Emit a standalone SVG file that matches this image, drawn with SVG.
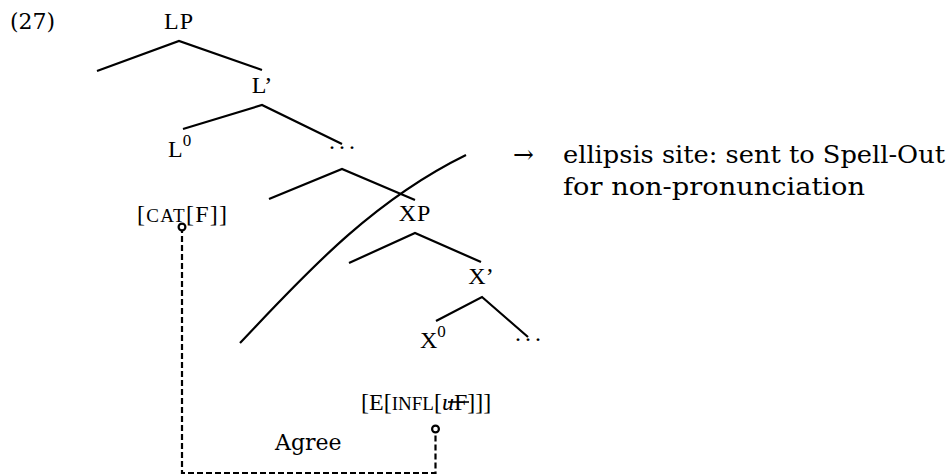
<svg xmlns="http://www.w3.org/2000/svg" width="950" height="475" viewBox="0 0 950 475">
<style>
  .lbl { font-family: "Liberation Serif", "Times New Roman", serif; font-size: 24px; fill: #000; }
  .sc { font-size: 19px; }
  .sup { font-size: 17px; }
  .txt { font-family: "DejaVu Serif", serif; font-size: 22px; fill: #000; }
  .note { font-family: "DejaVu Serif", serif; font-size: 25px; fill: #000; }
  .br { stroke: #000; stroke-width: 2.2; fill: none; }
  .agree { stroke: #000; stroke-width: 2.2; fill: none; stroke-dasharray: 6 3; }
</style>
<defs>
  <marker id="ring" viewBox="-6 -6 12 12" markerWidth="12" markerHeight="12" markerUnits="userSpaceOnUse" refX="0" refY="0" orient="auto">
    <circle cx="0" cy="0" r="3.4" fill="#fff" stroke="#000" stroke-width="2.2"/>
  </marker>
</defs>
<rect width="950" height="475" fill="#fff"/>
<g id="example-number"><text class="txt" x="10" y="29">(27)</text></g>
<g id="LP"><text class="lbl" x="179" y="29" text-anchor="middle" letter-spacing="1">LP</text></g>
<g id="Lbar"><text class="lbl" x="262" y="93" text-anchor="middle">L’</text></g>
<g id="L0"><text class="lbl" x="168" y="157">L<tspan class="sup" dy="-11">0</tspan></text></g>
<g id="dots1"><text class="lbl" x="329" y="149" letter-spacing="4">...</text></g>
<g id="XP"><text class="lbl" x="415" y="221" text-anchor="middle" letter-spacing="1">XP</text></g>
<g id="Xbar"><text class="lbl" x="481" y="284" text-anchor="middle">X’</text></g>
<g id="X0"><text class="lbl" x="420" y="348">X<tspan class="sup" dy="-11">0</tspan></text></g>
<g id="dots2"><text class="lbl" x="515" y="341" letter-spacing="4">...</text></g>
<g id="cat"><text class="lbl" x="137" y="222" textLength="90" lengthAdjust="spacing">[<tspan class="sc">CAT</tspan>[F]]</text></g>
<g id="einfl">
  <text class="lbl" x="361" y="410">[E[<tspan class="sc">INFL</tspan>[<tspan font-style="italic">u</tspan>F]]]</text>
  <line x1="448" y1="402" x2="469" y2="402" stroke="#000" stroke-width="1.6"/>
</g>
<g id="agree-label"><text class="txt" x="275" y="450">Agree</text></g>
<g id="ellipsis-note">
  <text class="note" x="513" y="163">→</text>
  <text class="note" x="563" y="163" textLength="382" lengthAdjust="spacingAndGlyphs">ellipsis site: sent to Spell-Out</text>
  <text class="note" x="563" y="195" textLength="302" lengthAdjust="spacingAndGlyphs">for non-pronunciation</text>
</g>
<g id="connectors">
  <polyline class="br" points="97,71 179,41 262,70"/>
  <polyline class="br" points="183,129 262,105 342,144"/>
  <polyline class="br" points="269,199 342,169 415,200"/>
  <polyline class="br" points="349,263 415,233 481,262"/>
  <polyline class="br" points="436,321 482,297 528,337"/>
  <path class="br" d="M240,343 C300,280 368,203 466,155"/>
  <path class="agree" d="M182,227 V473 H435.5 V429" marker-start="url(#ring)" marker-end="url(#ring)"/>
</g>
</svg>
